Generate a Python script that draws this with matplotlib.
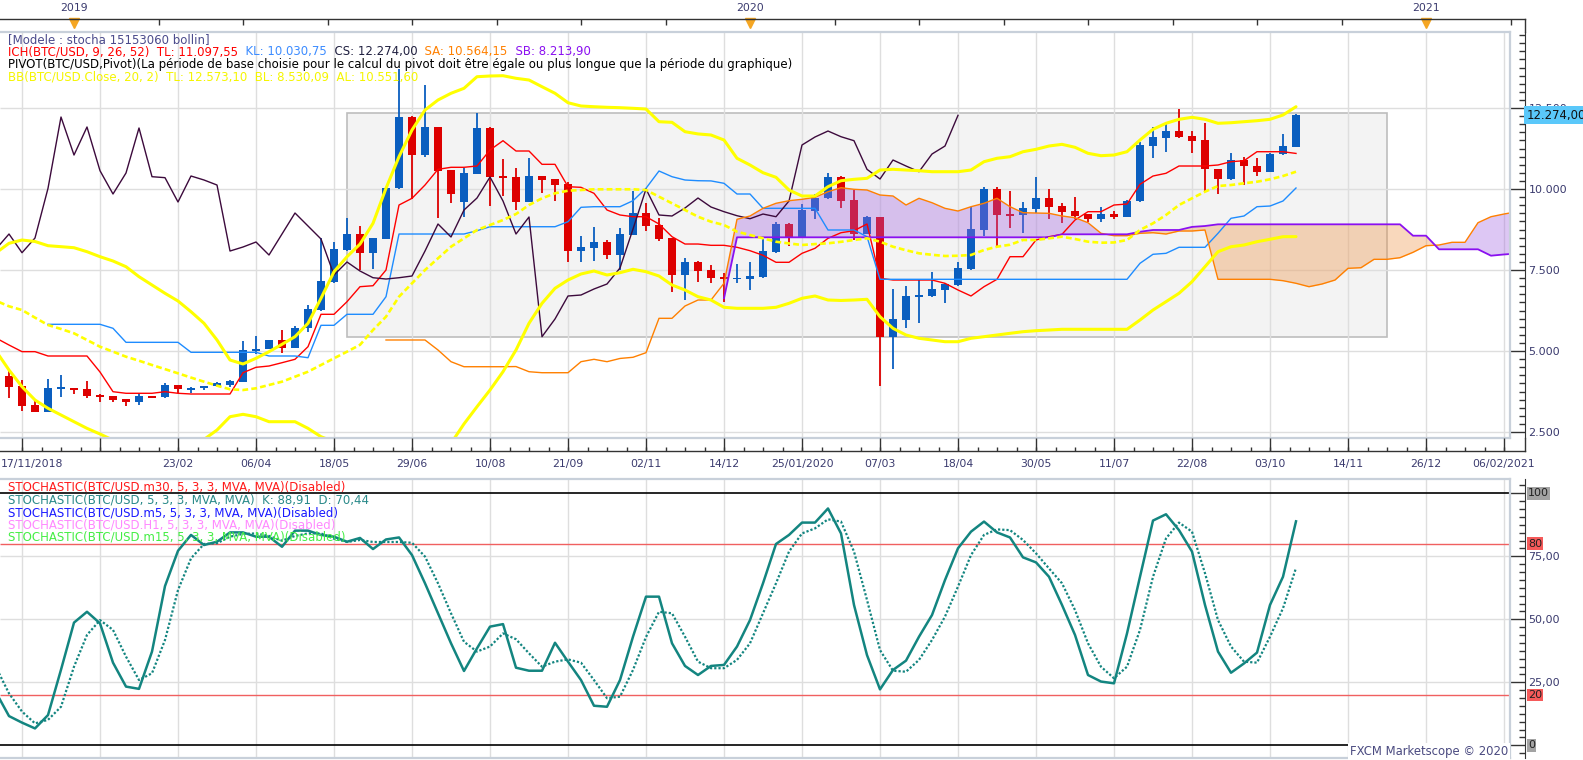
import matplotlib
matplotlib.use("Agg")
import matplotlib.pyplot as plt
from matplotlib.lines import Line2D
from matplotlib.patches import Rectangle
from matplotlib.ticker import FixedLocator, MultipleLocator, NullFormatter
import matplotlib.transforms as mtrans
import numpy as np

W, H = 1583, 760
PX_BAR, X_BAR0 = 13.0, 9.0          # weekly bar spacing / pixel x of bar 0
RIGHT_EDGE, AXIS_X = 1510, 1525

# ---- weekly BTC/USD bars, bar 0 = week of 24/11/2018 ----
opens = [4228, 3920, 3333, 3127, 3830, 3849, 3827, 3642, 3611, 3509,
         3435, 3611, 3571, 3951, 3787, 3860, 3920, 3951, 4053, 5010,
         5062, 5340, 5104, 5700, 6265, 7140, 8117, 8611, 8034, 8457,
         10021, 12222, 11049, 11914, 10586, 9599, 10472, 11883, 10401, 10370,
         9599, 10401, 10309, 10154, 8086, 8188, 8364, 7963, 8580, 9259,
         8889, 8488, 7346, 7747, 7500, 7284, 7220, 7222, 7284, 8055,
         8920, 8519, 9321, 9722, 10370, 9661, 8611, 9136, 5442, 5957,
         6667, 6698, 6883, 7037, 7531, 8735, 10000, 9228, 9188, 9392,
         9722, 9475, 9321, 9219, 9083, 9228, 9145, 9620, 11337, 11583,
         11790, 11636, 11512, 10617, 10309, 10895, 10710, 10534, 11070, 11306]
highs = [4383, 4105, 3466, 4136, 4260, 3870, 4074, 3660, 3620, 3520,
         3693, 3620, 4000, 3960, 3880, 3935, 4053, 4090, 5309, 5463,
         5350, 5648, 5760, 6420, 8478, 8374, 9114, 8867, 8500, 10030,
         13700, 12250, 13210, 11920, 10600, 10639, 12355, 11900, 10926, 10648,
         10957, 10410, 10320, 10216, 8559, 8837, 8426, 8796, 9938, 9568,
         9105, 8500, 7870, 7778, 7654, 7400, 7685, 7747, 8448, 8982,
         8940, 9537, 9846, 10494, 10400, 9969, 9167, 9150, 6914, 7006,
         7222, 7438, 7100, 7747, 9444, 10062, 10062, 9938, 9599, 10361,
         10000, 9560, 9753, 9240, 9444, 9321, 9660, 11460, 11904, 12068,
         12469, 11790, 12046, 10630, 11120, 10978, 10957, 11100, 11697, 12300]
lows = [3549, 3157, 3120, 3120, 3571, 3673, 3559, 3435, 3426, 3312,
        3343, 3540, 3560, 3693, 3715, 3800, 3910, 3898, 4040, 4907,
        5050, 4950, 5090, 5595, 6250, 7100, 8100, 7500, 7531, 8450,
        10000, 9682, 11000, 9114, 9559, 9145, 10460, 9475, 9784, 9352,
        9590, 9886, 9640, 7747, 7747, 7778, 7840, 7500, 8570, 8704,
        8395, 6821, 6574, 7130, 7108, 6503, 7108, 6883, 7260, 8040,
        8241, 8500, 9074, 9700, 9414, 8426, 8600, 3920, 4444, 5710,
        5864, 6680, 6481, 7000, 7500, 8549, 8241, 8796, 8651, 9269,
        9074, 8940, 9074, 8972, 8972, 9065, 9130, 9600, 10948, 11151,
        11583, 11120, 9929, 9846, 10268, 10123, 10401, 10520, 11050, 11290]
closes = [3898, 3312, 3127, 3849, 3860, 3796, 3620, 3590, 3488, 3435,
          3611, 3560, 3951, 3818, 3870, 3925, 4003, 4074, 5031, 5062,
          5340, 5104, 5719, 6306, 7160, 8148, 8611, 8034, 8488, 10021,
          12222, 11049, 11914, 10565, 9846, 10494, 11883, 10380, 10350, 9599,
          10401, 10278, 10123, 8086, 8210, 8364, 7963, 8611, 9259, 8858,
          8457, 7346, 7747, 7469, 7262, 7222, 7262, 7315, 8086, 8920,
          8519, 9352, 9722, 10370, 9630, 8611, 9136, 5442, 5988, 6698,
          6728, 6914, 7068, 7562, 8765, 10000, 9198, 9167, 9414, 9722,
          9444, 9300, 9176, 9083, 9228, 9145, 9630, 11358, 11605, 11790,
          11614, 11491, 10608, 10309, 10895, 10710, 10534, 11080, 11327, 12274]

# ---- Ichimoku ----
tenkan = [5400, 5185, 4980, 4980, 4846, 4846, 4846, 4846, 4352, 3744, 3695,   # bars -1..9
          3695, 3695, 3744, 3695, 3673, 3673, 3673, 3673, 4330, 4497,
          4537, 4639, 4744, 5133, 6133, 6133, 6522, 6985, 7015, 7500,
          9506, 9713, 10123, 10608, 10670, 10670, 10710, 11204, 11491, 11173,
          11173, 10762, 10762, 10071, 10052, 9867, 9352, 9198, 9145, 9145,
          8920, 8528, 8302, 8302, 8262, 8262, 8201, 8096, 7954, 7738,
          7738, 8015, 8170, 8478, 8651, 8713, 8920, 7244, 7191, 7191,
          7191, 7191, 7090, 6883, 6698, 6985, 7213, 7911, 7911, 8426,
          8528, 8602, 9043, 9300, 9300, 9506, 9537, 10145, 10401, 10485,
          10710, 10710, 10710, 10741, 10843, 10873, 11151, 11151, 11151, 11098]
kijun = [5824, 5824, 5824, 5824, 5824, 5701, 5268,                            # bars 3..9
         5268, 5268, 5268, 5268, 4960, 4960, 4960, 4960, 4960, 4960,
         4846, 4846, 4846, 4793, 5793, 5793, 6133, 6133, 6133, 6676,
         8611, 8611, 8611, 8611, 8611, 8611, 8713, 8836, 8836, 8836,
         8836, 8836, 8836, 8991, 9435, 9454, 9454, 9454, 9639, 10022,
         10556, 10380, 10278, 10256, 10250, 10176, 9846, 9846, 9404, 9404,
         9404, 9404, 9404, 8735, 8735, 8735, 8528, 7213, 7213, 7213,
         7213, 7213, 7213, 7213, 7213, 7213, 7213, 7213, 7213, 7213,
         7213, 7213, 7213, 7213, 7213, 7213, 7213, 7707, 7985, 8015,
         8201, 8201, 8201, 8633, 9096, 9167, 9454, 9475, 9630, 10031]
senkou_a = [5340,                                                              # bars 29..116
            5340, 5340, 5340, 5031, 4670, 4515, 4515, 4515, 4515, 4520,
            4361, 4330, 4330, 4330, 4670, 4744, 4670, 4770, 4806, 4948,
            6009, 6009, 6389, 6574, 6574, 7090, 9065, 9167, 9404, 9559,
            9639, 9682, 9744, 9917, 10040, 9991, 9969, 9815, 9784, 9506,
            9713, 9577, 9404, 9321, 9454, 9559, 9713, 9454, 9269, 9259,
            9250, 9167, 9114, 8960, 8633, 8559, 8559, 8633, 8651, 8611,
            8704, 8704, 8735, 7213, 7213, 7213, 7213, 7213, 7170, 7090,
            6985, 7068, 7191, 7552, 7571, 7830, 7830, 7880, 8046, 8250,
            8272, 8355, 8355, 8960, 9145, 9228, 9300]
senkou_b = ([6627] + [8509] * 25 + [8602] * 6 + [8680] + [8735] * 3 +      # bars 55..116
            [8830, 8858] + [8910] * 15 + [8559] * 2 + [8139] * 4 + [7942, 7980, 8010])

# ---- Bollinger (20, 2), bars -1..99 ----
bb_upper = [8030, 8324, 8426, 8380, 8250, 8220, 8188, 8065, 7911, 7778, 7602,
            7294, 7037, 6781, 6543, 6213, 5855, 5340, 4722, 4599, 4775,
            4979, 5207, 5442, 5855, 6627, 7448, 7911, 8300, 8941, 10022,
            10997, 11821, 12438, 12747, 12954, 13108, 13466, 13488, 13497, 13417,
            13364, 13157, 12954, 12663, 12562, 12540, 12522, 12510, 12491, 12469,
            12077, 12058, 11769, 11700, 11667, 11512, 10948, 10741, 10503, 10361,
            9969, 9784, 9784, 10071, 10256, 10299, 10330, 10586, 10608, 10586,
            10565, 10534, 10534, 10534, 10586, 10843, 10948, 10997, 11151, 11225,
            11327, 11379, 11287, 11102, 11028, 11049, 11151, 11512, 11843, 12028,
            12151, 12213, 12151, 12028, 12046, 12077, 12108, 12151, 12284, 12540]
bb_mid = [6550, 6380, 6265, 6030, 5802, 5680, 5546, 5340, 5133, 4980, 4824,
          4700, 4568, 4440, 4312, 4180, 4053, 3930, 3818, 3796, 3849,
          3951, 4053, 4207, 4361, 4568, 4775, 4979, 5190, 5648, 6059,
          6676, 7090, 7500, 7861, 8219, 8478, 8735, 8889, 9043, 9228,
          9506, 9713, 9867, 9948, 9969, 9991, 9991, 9991, 9991, 9969,
          9763, 9559, 9352, 9145, 8991, 8889, 8683, 8580, 8478, 8374,
          8320, 8272, 8300, 8324, 8370, 8426, 8478, 8374, 8219, 8110,
          8015, 7970, 7932, 7940, 7963, 8117, 8219, 8280, 8426, 8426,
          8478, 8528, 8457, 8374, 8343, 8350, 8426, 8735, 8941, 9198,
          9506, 9713, 9917, 10093, 10123, 10176, 10225, 10299, 10401, 10534]
bb_lower = [5000, 4414, 3898, 3488, 3231, 3025, 2818, 2613, 2438, 2250, 2150,
            2100, 2080, 2080, 2100, 2150, 2270, 2562, 2972, 3046, 2972,
            2818, 2818, 2818, 2613, 2355, 2200, 2050, 1900, 1700, 1400,
            1100, 1000, 1200, 1600, 2150, 2750, 3281, 3796, 4361, 5031,
            5855, 6472, 6935, 7191, 7377, 7469, 7346, 7417, 7522, 7448,
            7315, 7037, 6883, 6676, 6574, 6349, 6318, 6318, 6318, 6349,
            6472, 6627, 6698, 6574, 6560, 6574, 6596, 6059, 5700, 5494,
            5392, 5340, 5287, 5287, 5392, 5442, 5494, 5546, 5596, 5627,
            5648, 5670, 5670, 5670, 5670, 5670, 5670, 5957, 6265, 6522,
            6781, 7139, 7602, 8065, 8219, 8272, 8374, 8448, 8528, 8530]

# ---- Stochastic (5, 3, 3), bars -1..99 ----
stoch_k = [21.0, 11.6, 9.0, 6.7, 12.0, 30.0, 48.7, 53.0, 48.4, 32.8, 23.3,
           22.4, 37.2, 63.2, 77.2, 83.5, 79.5, 80.8, 84.5, 84.5, 82.8,
           82.8, 78.8, 85.2, 85.2, 83.5, 82.8, 80.8, 82.3, 77.9, 81.7,
           82.5, 75.5, 64.3, 52.4, 40.5, 29.5, 38.5, 47.1, 48.1, 30.8,
           29.6, 29.6, 40.7, 33.2, 25.9, 15.7, 15.3, 25.9, 43.1, 59.0,
           59.0, 40.5, 31.5, 27.9, 31.5, 31.9, 39.2, 49.7, 64.3, 79.9,
           83.5, 88.4, 88.4, 94.0, 84.1, 55.7, 35.8, 22.2, 29.9, 33.6,
           43.1, 51.7, 65.6, 78.2, 84.8, 88.8, 84.5, 82.5, 74.6, 72.6,
           66.9, 55.7, 43.8, 27.9, 25.3, 24.6, 44.4, 66.9, 89.2, 91.7,
           85.4, 76.9, 55.7, 37.2, 28.8, 32.5, 36.8, 55.7, 66.9, 88.9]
stoch_d = [31.0, 20.6, 13.4, 8.7, 10.1, 15.3, 31.2, 43.8, 49.7, 45.8, 35.2,
           25.9, 28.6, 41.8, 61.6, 74.2, 79.9, 80.2, 82.8, 83.9, 84.1,
           83.1, 81.2, 83.1, 84.1, 84.1, 82.0, 80.7, 81.5, 80.7, 80.7,
           80.7, 80.4, 74.9, 64.3, 52.4, 41.1, 37.2, 39.2, 44.4, 42.1,
           36.5, 31.2, 33.2, 34.1, 32.8, 25.9, 18.7, 19.3, 29.9, 43.0,
           53.0, 52.4, 43.1, 33.2, 30.6, 30.6, 33.9, 40.5, 52.4, 64.3,
           76.9, 84.1, 86.1, 89.7, 88.8, 76.9, 57.7, 37.8, 29.6, 29.2,
           33.9, 41.8, 51.1, 63.0, 75.5, 83.5, 85.7, 85.4, 81.5, 76.2,
           70.2, 64.3, 53.7, 40.5, 31.2, 26.6, 31.2, 45.8, 66.9, 82.1,
           88.4, 84.8, 68.3, 49.7, 39.2, 33.2, 32.8, 43.1, 54.4, 70.4]

# model box overlay (bars, prices)
box_bars = (26, 106)
box_prices = (5442, 12336)

date_labels = ['23/02', '06/04', '18/05', '29/06', '10/08', '21/09', '02/11', '14/12',
               '25/01/2020', '07/03', '18/04', '30/05', '11/07', '22/08', '03/10',
               '14/11', '26/12', '06/02/2021']
years = ['2019', '2020', '2021']
year_bars = [5, 57, 109]
price_ticks = [2500, 5000, 7500, 10000, 12500]
price_labels = ['2.500', '5.000', '7.500', '10.000', '12.500']

# ---------------------------------------------------------------------------
plt.rcParams['font.family'] = ['DejaVu Sans']
TXT = '#3a3a6e'
FS = 7.8          # axis labels
LFS = 8.45        # legend lines
GRID = '#dedede'
BORDER = '#c8d0da'
UP, DOWN = '#0a5ebf', '#dd0000'
TEAL = '#138580'

fig = plt.figure(figsize=(W / 100, H / 100), dpi=100)


def rect(x0, y0, x1, y1):
    return [x0 / W, 1 - y1 / H, (x1 - x0) / W, (y1 - y0) / H]


def fig_line(xs, ys, **kw):
    fig.add_artist(Line2D([x / W for x in xs], [1 - y / H for y in ys], **kw))


xl = ((0 - X_BAR0) / PX_BAR, (RIGHT_EDGE - X_BAR0) / PX_BAR)
grid_x = np.arange(1, 116, 6)


def frame(a):
    for s in ('left', 'top', 'bottom'):
        a.spines[s].set_visible(False)
    a.spines['right'].set_position(('outward', (AXIS_X - RIGHT_EDGE) * 0.72))
    a.spines['right'].set_color('#333333')
    a.set_xlim(*xl)
    a.set_xticks([])
    a.set_facecolor('none')
    for xs, ys in (([0, 1], [1, 1]), ([0, 1], [0, 0]), ([1, 1], [0, 1])):
        a.plot(xs, ys, transform=a.transAxes, color=BORDER, lw=1.6, clip_on=False, zorder=6)


# ---------------- main price panel ----------------
ax = fig.add_axes(rect(0, 32, RIGHT_EDGE, 438))
frame(ax)
ylo, yhi = 2315, 14846
ax.set_ylim(ylo, yhi)
ax.add_patch(Rectangle((box_bars[0], box_prices[0]), box_bars[1] - box_bars[0],
                       box_prices[1] - box_prices[0], fc='#f3f3f3', ec='#bdbdbd', lw=1.2, zorder=0.5))
ax.vlines(grid_x, ylo, yhi, color=GRID, lw=1, zorder=0.7)
ax.hlines(price_ticks, *xl, color=GRID, lw=1, zorder=0.7)

bars = np.arange(len(closes))
o, h, l, c = (np.array(v, float) for v in (opens, highs, lows, closes))
cols = np.where(c >= o, UP, DOWN)
ax.vlines(bars, l, h, colors=cols, lw=1.3, zorder=2)
ax.bar(bars, np.maximum(np.abs(c - o), 45), bottom=np.minimum(o, c), width=0.62,
       color=cols, lw=0, zorder=2.1)

xa = np.arange(29, 29 + len(senkou_a))
xb = np.arange(55, 55 + len(senkou_b))
sa_c = np.array(senkou_a[55 - 29:], float)
sb_c = np.array(senkou_b, float)
ax.fill_between(xb, sa_c, sb_c, where=sa_c >= sb_c, interpolate=True,
                color='#a060e0', alpha=0.35, lw=0, zorder=3)
ax.fill_between(xb, sa_c, sb_c, where=sa_c < sb_c, interpolate=True,
                color='#f09040', alpha=0.35, lw=0, zorder=3)

ax.plot(np.arange(-1, 100), tenkan, color='#ff0000', lw=1.0, zorder=4)
ax.plot(np.arange(3, 100), kijun, color='#1e8cff', lw=1.0, zorder=4)
ax.plot(np.arange(25, 100) - 26, closes[25:], color='#3c0a3c', lw=1.0, zorder=4)
ax.plot(xa, senkou_a, color='#ff8000', lw=1.0, zorder=4)
ax.plot(xb, senkou_b, color='#8a10f0', lw=1.3, zorder=4)

bx = np.arange(-1, 100)
ax.plot(bx, bb_upper, color='#ffff00', lw=2.2, zorder=5, solid_capstyle='round')
ax.plot(bx, bb_lower, color='#ffff00', lw=2.2, zorder=5, solid_capstyle='round')
ax.plot(bx, bb_mid, color='#ffff00', lw=1.9, ls=(0, (2.2, 1.2)), zorder=5)

ax.yaxis.tick_right()
ax.yaxis.set_major_locator(FixedLocator(price_ticks))
ax.set_yticklabels(price_labels)
ax.yaxis.set_minor_locator(MultipleLocator(250))
ax.yaxis.set_minor_formatter(NullFormatter())
ax.tick_params(axis='y', which='major', direction='in', length=(AXIS_X - RIGHT_EDGE) * 0.72,
               width=1, color='#333333', pad=2.5, labelsize=FS + 0.2, labelcolor=TXT)
ax.tick_params(axis='y', which='minor', direction='in', length=4.3, width=1, color='#333333')
tr_main = mtrans.blended_transform_factory(ax.transAxes, ax.transData)
ax.text((AXIS_X + 2) / RIGHT_EDGE, closes[-1], '12.274,00', transform=tr_main, ha='left',
        va='center', fontsize=FS + 0.6, color='#111111', clip_on=False, zorder=10,
        bbox=dict(boxstyle='square,pad=0.22', fc='#5ac8fa', ec='none'))

# ---------------- top year strip ----------------
axt = fig.add_axes(rect(0, 19, RIGHT_EDGE, 32))
axt.set_xlim(*xl)
axt.set_ylim(0, 1)
axt.axis('off')
fig_line([0, AXIS_X], [19, 19], color='#333333', lw=1)
fig_line([AXIS_X, AXIS_X], [19, 32], color='#333333', lw=1)
top_ticks = [5 + 6.5 * k for k in range(18) if k % 8]
axt.vlines(top_ticks, 1 - 6 / 13, 1, color='#333333', lw=1, clip_on=False)
axt.plot(year_bars, [1 - 4 / 13] * 3, 'v', ms=7.5, color='#f5a623', mec='#f5a623', clip_on=False)
for yb, ys in zip(year_bars, years):
    axt.text(yb, 1 + 11 / 13, ys, ha='center', va='center', fontsize=FS, color=TXT)

# ---------------- date strip ----------------
axd = fig.add_axes(rect(0, 438, RIGHT_EDGE, 451))
axd.set_xlim(*xl)
axd.set_ylim(0, 1)
axd.axis('off')
fig_line([0, AXIS_X], [451, 451], color='#333333', lw=1)
fig_line([AXIS_X, AXIS_X], [438, 451], color='#333333', lw=1)
axd.vlines(grid_x, 0, 1, color='#333333', lw=1, clip_on=False)
axd.vlines(np.arange(1, 116, 1.5), 0, 4 / 13, color='#333333', lw=1, clip_on=False)
for k, lab in enumerate(date_labels):
    axd.text(13 + 6 * k, -1.0, lab, ha='center', va='center', fontsize=FS,
             color=TXT, clip_on=False)
axd.text((1 - X_BAR0) / PX_BAR, -1.0, '17/11/2018', ha='left', va='center',
         fontsize=FS, color=TXT)

# ---------------- stochastic panel ----------------
ax2 = fig.add_axes(rect(0, 479, RIGHT_EDGE, 758))
frame(ax2)
slo, shi = -5.04, 105.7
ax2.set_ylim(slo, shi)
ax2.vlines(grid_x, slo, shi, color=GRID, lw=1, zorder=0.5)
ax2.hlines([25, 50, 75], *xl, color=GRID, lw=1, zorder=0.5)
ax2.hlines([80, 20], *xl, color='#f06060', lw=1, zorder=1)
ax2.hlines([100, 0], *xl, color='black', lw=1.2, zorder=1)
sx = np.arange(-1, 100)
ax2.plot(sx, stoch_k, color=TEAL, lw=1.8, zorder=3)
ax2.plot(sx, stoch_d, color=TEAL, lw=1.6, ls=(0, (1, 0.9)), zorder=3)
ax2.yaxis.tick_right()
ax2.yaxis.set_major_locator(FixedLocator([0, 25, 50, 75, 100]))
ax2.set_yticklabels(['', '25,00', '50,00', '75,00', ''])
ax2.yaxis.set_minor_locator(MultipleLocator(3.125))
ax2.yaxis.set_minor_formatter(NullFormatter())
ax2.tick_params(axis='y', which='major', direction='in', length=(AXIS_X - RIGHT_EDGE) * 0.72,
                width=1, color='#333333', pad=2.5, labelsize=FS + 0.2, labelcolor=TXT)
ax2.tick_params(axis='y', which='minor', direction='in', length=4.3, width=1, color='#333333')
tr_st = mtrans.blended_transform_factory(ax2.transAxes, ax2.transData)
for lab, val, bg in (('100', 100, '#a3a3a3'), ('80', 80, '#f55a5a'),
                     ('20', 20, '#f55a5a'), ('0', 0, '#a3a3a3')):
    ax2.text((AXIS_X + 3) / RIGHT_EDGE, val, lab, transform=tr_st, ha='left', va='center',
             fontsize=FS + 0.2, color='#202020', clip_on=False, zorder=10,
             bbox=dict(boxstyle='square,pad=0.12', fc=bg, ec='none'))
fig.text((RIGHT_EDGE - 2) / W, 1 - 751.5 / H, 'FXCM Marketscope \u00a9 2020', ha='right',
         va='center', fontsize=FS + 0.6, color='#4a4a80', zorder=8,
         bbox=dict(boxstyle='square,pad=0.15', fc='white', ec='none'))


# ---------------- legends ----------------
def legend_line(parts, x, y, size=LFS):
    t = fig.text(x / W, 1 - y / H, parts[0][0], color=parts[0][1], fontsize=size,
                 ha='left', va='center', zorder=9)
    for s, col in parts[1:]:
        t = ax.annotate(s, xy=(1, 0), xycoords=t, ha='left', va='bottom', color=col,
                        fontsize=size, annotation_clip=False, zorder=9)


legend_line([('[Modele : stocha 15153060 bollin]', '#4b4b8c')], 8, 39.3)
legend_line([('ICH(BTC/USD, 9, 26, 52)  TL: 11.097,55', '#ff0000'),
             ('  KL: 10.030,75', '#3c8cff'), ('  CS: 12.274,00', '#202040'),
             ('  SA: 10.564,15', '#ff8000'), ('  SB: 8.213,90', '#8a10f0')], 8, 51.7)
legend_line([('PIVOT(BTC/USD,Pivot)(La période de base choisie pour le calcul du pivot doit '
              'être égale ou plus longue que la période du graphique)', '#000000')], 8, 64.3)
legend_line([('BB(BTC/USD.Close, 20, 2)  TL: 12.573,10  BL: 8.530,09  AL: 10.551,60',
              '#f5f500')], 8, 77.3)

legend_line([('STOCHASTIC(BTC/USD.m30, 5, 3, 3, MVA, MVA)(Disabled)', '#ff1a1a')], 8, 486.7)
legend_line([('STOCHASTIC(BTC/USD, 5, 3, 3, MVA, MVA)  K: 88,91  D: 70,44', '#2a8a8a')], 8, 500)
legend_line([('STOCHASTIC(BTC/USD.m5, 5, 3, 3, MVA, MVA)(Disabled)', '#1a1aff')], 8, 512.7)
legend_line([('STOCHASTIC(BTC/USD.H1, 5, 3, 3, MVA, MVA)(Disabled)', '#ff88ff')], 8, 525)
legend_line([('STOCHASTIC(BTC/USD.m15, 5, 3, 3, MVA, MVA)(Disabled)', '#44ee44')], 8, 537.3)

fig.savefig('out.png', dpi=100)
